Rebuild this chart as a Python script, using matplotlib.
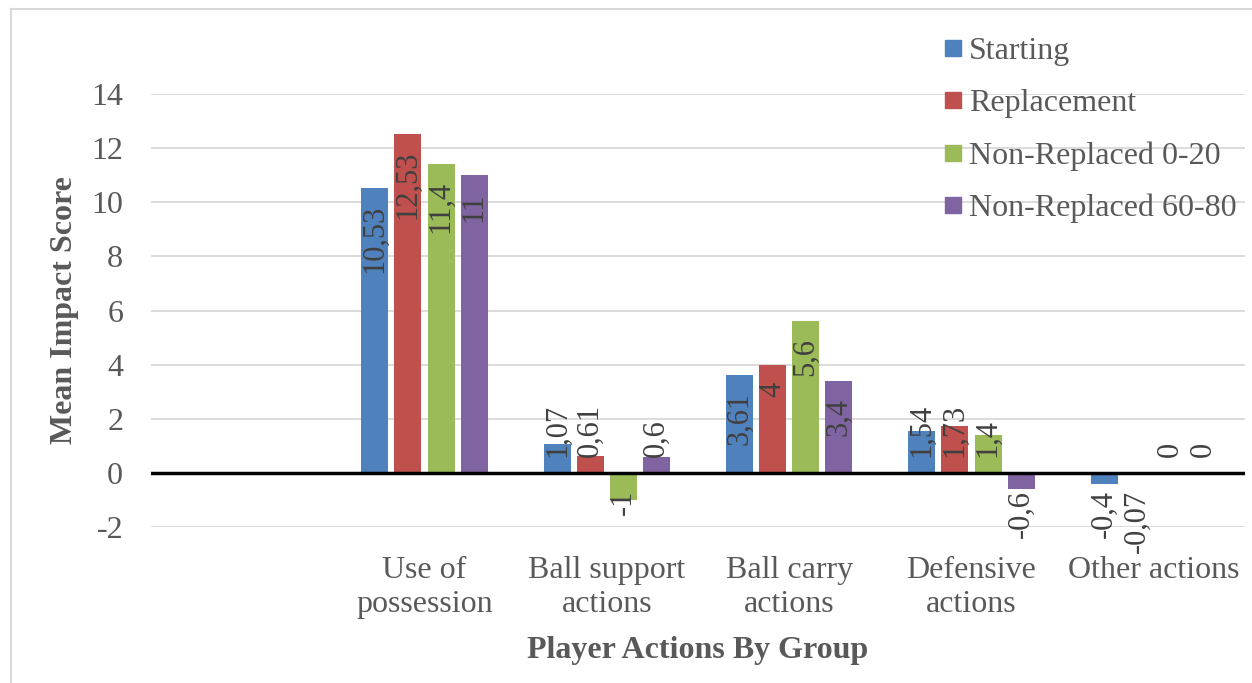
import matplotlib
matplotlib.use("Agg")
import matplotlib.pyplot as plt
from matplotlib.patches import Rectangle
from matplotlib.lines import Line2D
from matplotlib.transforms import offset_copy
import numpy as np

# ---- data ----
categories = ["", "Use of\npossession", "Ball support\nactions", "Ball carry\nactions",
              "Defensive\nactions", "Other actions"]
series_names = ["Starting", "Replacement", "Non-Replaced 0-20", "Non-Replaced 60-80"]
starting = [10.53, 1.07, 3.61, 1.54, -0.4]
replacement = [12.53, 0.61, 4, 1.73, -0.07]
non_replaced_0_20 = [11.4, -1, 5.6, 1.4, 0]
non_replaced_60_80 = [11, 0.6, 3.4, -0.6, 0]
y_ticks = [-2, 0, 2, 4, 6, 8, 10, 12, 14]

series = [starting, replacement, non_replaced_0_20, non_replaced_60_80]
colors = ["#4F81BD", "#C0504D", "#9BBB59", "#8064A2"]

W, H, DPI = 1252, 683, 100
FONT = "Liberation Serif"
TXT = "#595959"
LBL = "#404040"
FS = 23

fig = plt.figure(figsize=(W / DPI, H / DPI), dpi=DPI)
fig.patch.set_facecolor("white")

# plot area in pixel coordinates
x0, x1 = 151, 1245
y_top, y_bot = 94, 527
ax = fig.add_axes([x0 / W, 1 - y_bot / H, (x1 - x0) / W, (y_bot - y_top) / H])
ax.set_facecolor("none")

ax.set_xlim(-0.5, len(categories) - 0.5)
ax.set_ylim(-2, 14)
ax.set_yticks(y_ticks)
ax.set_yticklabels([str(t) for t in y_ticks], fontfamily=FONT, fontsize=FS, color=TXT)
ax.set_xticks(range(len(categories)))
ax.set_xticklabels(categories, fontfamily=FONT, fontsize=FS, color=TXT, linespacing=1.22)
ax.tick_params(axis="both", length=0)
ax.tick_params(axis="y", pad=20)
ax.tick_params(axis="x", pad=21)
for s in ax.spines.values():
    s.set_visible(False)

for t in y_ticks:
    if t != 0:
        ax.axhline(t, color="#D9D9D9", lw=1.3, zorder=0)

ax.set_ylabel("Mean Impact Score", fontfamily=FONT, fontsize=FS, fontweight="bold",
              color=TXT)
ax.yaxis.set_label_coords((79 - x0) / (x1 - x0), 0.5)
ax.set_xlabel("Player Actions By Group", fontfamily=FONT, fontsize=FS, fontweight="bold",
              color=TXT, labelpad=12)

# bars
step = 33 / 182.33
bw = 27 / 182.33
xs = np.arange(1, len(categories))
texts = []
for i, (vals, c) in enumerate(zip(series, colors)):
    pos = xs + (i - 1.5) * step
    ax.bar(pos, vals, width=bw, color=c, zorder=2, linewidth=0)
    for p, v in zip(pos, vals):
        lab = str(v).replace(".", ",") if not float(v).is_integer() else str(int(v))
        tr = offset_copy(ax.transData, fig=fig, x=0, y=-17 * 72 / DPI, units="points")
        t = ax.text(p, v if v >= 0 else 0, lab, rotation=90, ha="center", va="top",
                    transform=tr, fontfamily=FONT, fontsize=22, color=LBL, zorder=4)
        texts.append((t, p, v))

ax.axhline(0, color="black", lw=2.5, zorder=3)

# keep positive labels clear of the baseline
fig.canvas.draw()
r = fig.canvas.get_renderer()
zero_px = ax.transData.transform((0, 0))[1]
for t, p, v in texts:
    if v >= 0:
        bb = t.get_window_extent(r)
        if bb.y0 < zero_px + 16:
            tr = offset_copy(ax.transData, fig=fig, x=0, y=16 * 72 / DPI, units="points")
            t.set_transform(tr)
            t.set_position((p, 0))
            t.set_va("bottom")

# legend
leg_y = [48, 100, 153, 205]
for name, c, yy in zip(series_names, colors, leg_y):
    fig.patches.append(Rectangle((945 / W, 1 - (yy + 8) / H), 16 / W, 16 / H,
                                 transform=fig.transFigure, color=c, zorder=5))
    fig.text(969 / W, 1 - yy / H, name, fontfamily=FONT, fontsize=FS, color=TXT,
             va="center_baseline", ha="left", zorder=5)

# chart frame
fig.add_artist(Line2D([11 / W, 1], [1 - 8.5 / H] * 2, transform=fig.transFigure,
                      color="#D9D9D9", lw=1.5))
fig.add_artist(Line2D([11 / W] * 2, [0, 1 - 8.5 / H], transform=fig.transFigure,
                      color="#D9D9D9", lw=1.5))

fig.savefig("out.png", dpi=DPI, facecolor="white")
